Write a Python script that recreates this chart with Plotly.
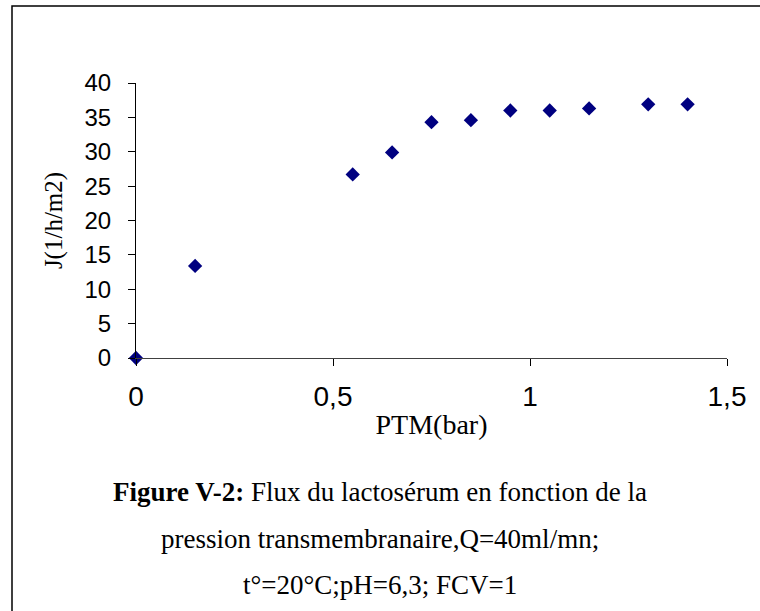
import plotly.graph_objects as go

# Transmembrane pressure (bar) and permeate flux J (l/h/m2)
ptm_bar = [0.0, 0.15, 0.55, 0.65, 0.75, 0.85, 0.95, 1.05, 1.15, 1.30, 1.40]
flux_j = [0.0, 13.4, 26.7, 29.9, 34.3, 34.6, 36.0, 36.0, 36.3, 36.9, 36.9]

x_ticks = [0, 0.5, 1, 1.5]
x_tick_text = ["0", "0,5", "1", "1,5"]
y_ticks = [0, 5, 10, 15, 20, 25, 30, 35, 40]

caption_lines = [
    "<b>Figure V-2:</b> Flux du lactosérum en fonction de la",
    "pression transmembranaire,Q=40ml/mn;",
    "t°=20°C;pH=6,3; FCV=1",
]

W, H = 760, 611
ML, MR, MT, MB = 136, 33, 83, 253
PW, PH = W - ML - MR, H - MT - MB


def px_to_paper(px, py):
    return (px - ML) / PW, (H - MB - py) / PH


SANS = "Liberation Sans, Arial, sans-serif"
SERIF = "Liberation Serif, Times New Roman, serif"

fig = go.Figure(
    go.Scatter(
        x=ptm_bar,
        y=flux_j,
        mode="markers",
        marker=dict(symbol="diamond", size=11, color="#000080",
                    line=dict(width=0)),
        cliponaxis=False,
        showlegend=False,
    )
)

fig.update_xaxes(
    range=[0, 1.5],
    tickvals=x_ticks,
    ticktext=x_tick_text,
    ticks="outside",
    ticklen=7,
    tickwidth=1,
    tickcolor="#000000",
    showline=True,
    linecolor="#404040",
    linewidth=1,
    showgrid=False,
    zeroline=False,
    tickfont=dict(family=SANS, size=28, color="#000000"),
    ticklabelstandoff=6,
    title=dict(text="PTM(bar)", font=dict(family=SERIF, size=28, color="#000000"),
               standoff=3),
)
fig.update_yaxes(
    range=[0, 40],
    tickvals=y_ticks,
    ticks="outside",
    ticklen=7,
    tickwidth=1,
    tickcolor="#000000",
    showline=True,
    linecolor="#000000",
    linewidth=1,
    showgrid=False,
    zeroline=False,
    tickfont=dict(family=SANS, size=24, color="#000000"),
    ticklabelstandoff=12,
    title=dict(text="J(1/h/m2)", font=dict(family=SERIF, size=25, color="#000000"),
               standoff=14),
)

# Caption below the chart
for text, cy in zip(caption_lines, [492, 539, 585]):
    ax, ay = px_to_paper(380, cy)
    fig.add_annotation(
        text=text, x=ax, y=ay, xref="paper", yref="paper",
        xanchor="center", yanchor="middle", showarrow=False,
        font=dict(family=SERIF, size=27, color="#000000"),
    )

# Outer frame (runs past the right and bottom edges)
bx0, by0 = px_to_paper(12, 6)
bx1, by1 = px_to_paper(800, 650)
fig.add_shape(type="rect", xref="paper", yref="paper",
              x0=bx0, y0=by1, x1=bx1, y1=by0,
              line=dict(color="#000000", width=1.5), fillcolor="rgba(0,0,0,0)")

fig.update_layout(
    width=W, height=H,
    margin=dict(l=ML, r=MR, t=MT, b=MB),
    paper_bgcolor="#ffffff",
    plot_bgcolor="#ffffff",
)

fig.write_html("out.html")
